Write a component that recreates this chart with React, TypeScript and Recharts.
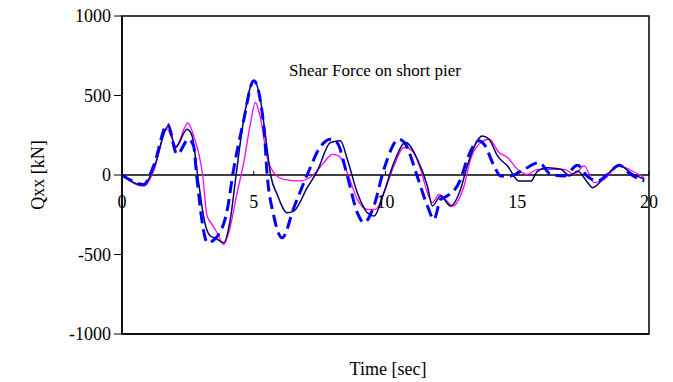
import React from "react";
import {
  LineChart,
  Line,
  XAxis,
  YAxis,
  ReferenceLine,
  ReferenceArea,
} from "recharts";

// time [sec], Qxx [kN]
const navyPts = [
  [0, 0], [0.82, -65], [1.2, 40], [1.77, 309], [2.03, 173], [2.47, 288], [2.66, 246],
  [2.87, 0], [3.13, -290], [3.33, -380], [3.58, -400], [3.86, -426], [4.11, -279],
  [4.33, 0], [4.62, 350], [5.0, 593], [5.25, 477], [5.45, 240], [5.64, 0], [5.89, -122],
  [6.27, -237], [6.52, -227], [7.03, -80], [7.41, 25], [7.91, 204], [8.29, 215],
  [8.55, 99], [8.93, -111], [9.31, -237], [9.56, -258], [9.94, -111], [10.32, 78],
  [10.76, 204], [11.21, 99], [11.59, -69], [11.78, -195], [12.09, -132], [12.47, -195],
  [12.85, -90], [13.1, 57], [13.68, 246], [13.93, 225], [14.25, 120], [14.63, 57],
  [15.07, -38], [15.52, -38], [15.77, 25], [16.15, 46], [16.66, 36], [16.98, -6],
  [17.29, 25], [17.67, -48], [17.86, -80], [18.3, -17], [18.87, 61], [19.3, 15],
  [19.82, -27],
];

const pinkPts = [
  [0, 0], [0.82, -70], [1.2, 25], [1.7, 290], [2.05, 183], [2.5, 327], [2.72, 246],
  [3.06, 0], [3.23, -258], [3.42, -311], [3.61, -363], [3.86, -437], [4.05, -363],
  [4.37, -111], [4.62, 78], [4.87, 320], [5.06, 456], [5.25, 362], [5.51, 110],
  [5.76, 15], [6.14, -27], [6.77, -37], [7.28, 4], [7.66, 78], [7.98, 130], [8.23, 120],
  [8.55, 15], [8.93, -153], [9.31, -216], [9.62, -216], [9.94, -111], [10.32, 57],
  [10.7, 173], [11.01, 152], [11.33, 36], [11.59, -111], [11.78, -174], [12.03, -122],
  [12.22, -143], [12.54, -195], [12.98, -69], [13.23, 99], [13.55, 194], [13.93, 225],
  [14.31, 141], [14.63, 110], [15.01, 36], [15.39, 4], [15.77, 36], [16.27, 36],
  [16.78, 36], [17.16, 4], [17.54, 57], [17.92, -48], [18.3, -27], [18.87, 57],
  [19.37, 25], [19.82, -17],
];

const dashPts = [
  [0, 0], [0.82, -59], [1.2, 57], [1.73, 320], [2.09, 130], [2.53, 225], [2.72, 183],
  [2.83, 0], [3.25, -426], [3.57, -395], [4.01, -206], [4.2, 0], [4.6, 330],
  [5.0, 593], [5.38, 309], [5.51, 0], [5.75, -250], [6.08, -395], [6.52, -206],
  [7.09, 25], [7.5, 170], [7.91, 225], [8.16, 204], [8.55, -6], [8.93, -237],
  [9.18, -300], [9.56, -195], [9.94, 36], [10.51, 225], [10.76, 194], [11.2, -6],
  [11.59, -195], [11.84, -279], [12.09, -153], [12.34, -132], [12.85, -27], [13.1, 99],
  [13.55, 215], [13.74, 194], [14.12, 57], [14.37, -6], [14.75, -6], [15.26, 36],
  [15.83, 78], [16.27, 4], [16.78, -6], [17.29, 61], [17.67, -10], [18.05, -38],
  [18.43, 4], [18.87, 61], [19.3, 4], [19.82, -38],
];

const timeTicks = [0, 5, 10, 15, 20];
const forceTicks = [-1000, -500, 0, 500, 1000];

const toRows = (pts: number[][]) => pts.map(([t, v]) => ({ t, v }));

const serif = "'Liberation Serif', 'Times New Roman', serif";

// x tick labels sit just under the zero line, not at the frame bottom
const ZERO_SHIFT = 159;

const TimeTick = (props: any) => {
  const { x, y, payload } = props;
  const y0 = y - ZERO_SHIFT;
  return (
    <g>
      <line x1={x} x2={x} y1={y0} y2={y0 - 4} stroke="#000" strokeWidth={1} />
      <text x={x} y={y0 + 33} textAnchor="middle" fontSize={18} fontFamily={serif} fill="#000">
        {payload.value}
      </text>
    </g>
  );
};

export default function App() {
  return (
    <div style={{ position: "absolute", left: 0, top: 0, background: "#fff" }}>
      <LineChart
        width={673}
        height={382}
        margin={{ top: 16, right: 24, bottom: 18, left: 0 }}
      >
        <XAxis
          dataKey="t"
          type="number"
          domain={[0, 20]}
          ticks={timeTicks}
          height={30}
          axisLine={{ stroke: "#000", strokeWidth: 1.5 }}
          tickLine={false}
          tickSize={0}
          tickMargin={0}
          tick={<TimeTick />}
          interval={0}
          allowDataOverflow
        />
        <YAxis
          type="number"
          domain={[-1000, 1000]}
          ticks={forceTicks}
          width={122}
          interval={0}
          axisLine={{ stroke: "#000", strokeWidth: 1.5 }}
          tickLine={{ stroke: "#000", strokeWidth: 1 }}
          tickSize={8}
          tickMargin={3}
          tick={{ fontSize: 18, fontFamily: serif, fill: "#000" }}
          label={{
            value: "Qxx [kN]",
            angle: -90,
            position: "insideLeft",
            offset: 38,
            fontSize: 18,
            fontFamily: serif,
            fill: "#000",
            style: { textAnchor: "middle" },
          }}
        />
        <ReferenceArea
          x1={0}
          x2={20}
          y1={-1000}
          y2={1000}
          fill="none"
          stroke="#000"
          strokeWidth={1.5}
          ifOverflow="visible"
        />
        <ReferenceLine y={0} stroke="#000" strokeWidth={1.5} />
        <Line
          data={toRows(pinkPts)}
          dataKey="v"
          type="monotone"
          stroke="#ff00ff"
          strokeWidth={1.3}
          dot={false}
          isAnimationActive={false}
        />
        <Line
          data={toRows(navyPts)}
          dataKey="v"
          type="monotone"
          stroke="#000066"
          strokeWidth={1.5}
          dot={false}
          isAnimationActive={false}
        />
        <Line
          data={toRows(dashPts)}
          dataKey="v"
          type="monotone"
          stroke="#0000ff"
          strokeWidth={3}
          strokeDasharray="12 6"
          dot={false}
          isAnimationActive={false}
        />
        <text x={375} y={76} textAnchor="middle" fontSize={17} fontFamily={serif} fill="#000">
          Shear Force on short pier
        </text>
        <text x={388} y={375} textAnchor="middle" fontSize={18} fontFamily={serif} fill="#000">
          Time [sec]
        </text>
      </LineChart>
    </div>
  );
}
